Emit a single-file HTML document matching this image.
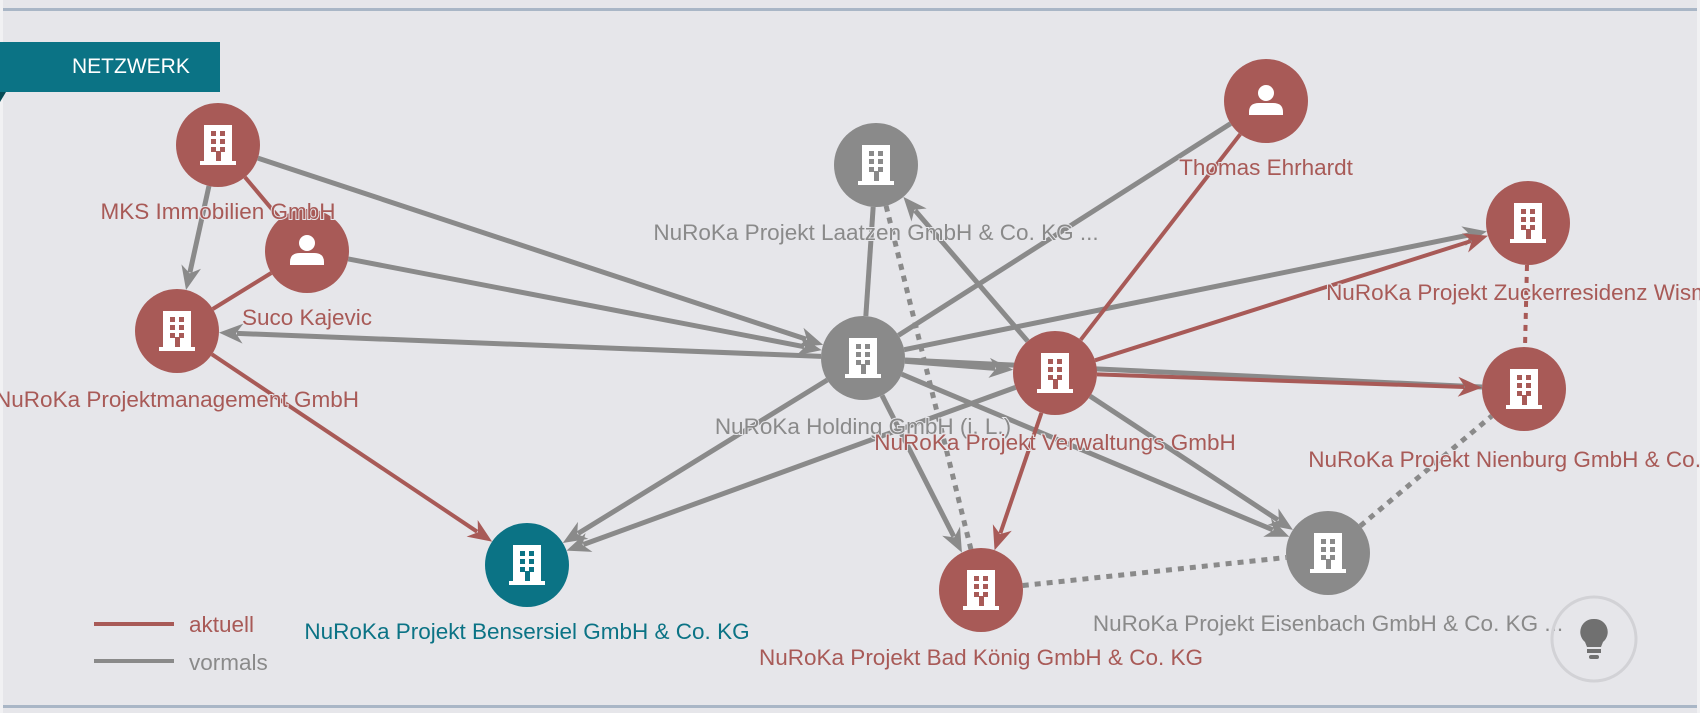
<!DOCTYPE html>
<html><head><meta charset="utf-8"><style>
html,body{margin:0;padding:0;}
body{width:1700px;height:713px;overflow:hidden;background:#e6e6ea;position:relative;font-family:"Liberation Sans",sans-serif;}
.bar{position:absolute;left:3px;right:3px;height:3px;background:#a9b6c6;}
.tab{position:absolute;left:0;top:42px;width:220px;height:50px;background:#0b7385;color:#fff;font-size:21px;line-height:50px;}
.tab span{position:absolute;left:72px;}
svg{position:absolute;left:0;top:0;}
</style></head><body>
<div style="position:absolute;left:0;top:0;width:3px;height:713px;background:#f1f1f3"></div>
<div style="position:absolute;right:0;top:0;width:3px;height:713px;background:#f1f1f3"></div>
<div class="bar" style="top:8px"></div>
<div class="bar" style="top:705px"></div>
<svg id="s" width="1700" height="713" viewBox="0 0 1700 713"></svg>
<div class="tab"><span>NETZWERK</span></div>
<div style="position:absolute;left:0;top:92px;width:0;height:0;border-top:10px solid #064a55;border-right:6px solid transparent"></div>
<script>
var R='#a85a57',G='#8a8a8a',T='#0b7385';
var N={
mks:[218,145,R,'b','MKS Immobilien GmbH',219,R],
suco:[307,251,R,'p','Suco Kajevic',325,R],
pm:[177,331,R,'b','NuRoKa Projektmanagement GmbH',407,R],
ben:[527,565,T,'b','NuRoKa Projekt Bensersiel GmbH & Co. KG',639,T],
laa:[876,165,G,'b','NuRoKa Projekt Laatzen GmbH & Co. KG ...',240,G],
hol:[863,358,G,'b','NuRoKa Holding GmbH (i. L.)',434,G],
tho:[1266,101,R,'p','Thomas Ehrhardt',175,R],
ver:[1055,373,R,'b','NuRoKa Projekt Verwaltungs GmbH',450,R],
zuc:[1528,223,R,'b','NuRoKa Projekt Zuckerresidenz Wismar',300,R],
nie:[1524,389,R,'b','NuRoKa Projekt Nienburg GmbH & Co. KG',467,R],
eis:[1328,553,G,'b','NuRoKa Projekt Eisenbach GmbH & Co. KG ...',631,G],
bad:[981,590,R,'b','NuRoKa Projekt Bad König GmbH & Co. KG',665,R]
};
var E=[
['mks','hol',G,1,0],['suco','hol',G,1,0],['mks','pm',G,1,0],['hol','pm',G,1,0],
['hol','ben',G,1,0],['ver','ben',G,1,0],['hol','laa',G,0,0],['ver','laa',G,1,0],
['laa','bad',G,0,1],['tho','hol',G,0,0],['hol','zuc',G,1,0],['hol','ver',G,1,0],
['hol','nie',G,0,0],['hol','eis',G,1,0],['ver','eis',G,1,0],['hol','bad',G,1,0],
['bad','eis',G,0,1],['eis','nie',G,0,1],['zuc','nie',R,0,1],
['mks','suco',R,0,0],['suco','pm',R,0,0],['pm','ben',R,1,0],['tho','ver',R,0,0],
['ver','zuc',R,1,0],['ver','nie',R,1,0],['ver','bad',R,1,0]
];
var h='';
E.forEach(function(e){
 var a=N[e[0]],b=N[e[1]],dx=b[0]-a[0],dy=b[1]-a[1],L=Math.sqrt(dx*dx+dy*dy),ux=dx/L,uy=dy/L,r=42;
 var x1=a[0]+ux*r,y1=a[1]+uy*r,x2=b[0]-ux*r,y2=b[1]-uy*r,w=e[2]==R?4:5;
 var ex=x2,ey=y2;
 if(e[3]){ex=x2-ux*18;ey=y2-uy*18;}
 h+='<line x1="'+x1+'" y1="'+y1+'" x2="'+ex+'" y2="'+ey+'" stroke="'+e[2]+'" stroke-width="'+w+'"'+(e[4]?' stroke-dasharray="6,6"':'')+'/>';
 if(e[3]){var px=-uy,py=ux,bx=x2-ux*24,by=y2-uy*24;
  h+='<polygon points="'+x2+','+y2+' '+(bx+px*10)+','+(by+py*10)+' '+(x2-ux*17)+','+(y2-uy*17)+' '+(bx-px*10)+','+(by-py*10)+'" fill="'+e[2]+'"/>';}
});
for(var k in N){var n=N[k],x=n[0],y=n[1];
 h+='<circle cx="'+x+'" cy="'+y+'" r="42" fill="'+n[2]+'"/>';
 if(n[3]=='b'){
  h+='<rect x="'+(x-14)+'" y="'+(y-20)+'" width="28" height="38" fill="#fff"/><rect x="'+(x-18)+'" y="'+(y+16)+'" width="36" height="4" fill="#fff"/>';
  for(var i=0;i<3;i++)for(var j=0;j<2;j++)h+='<rect x="'+(x-7+j*9)+'" y="'+(y-14+i*8)+'" width="5" height="5" fill="'+n[2]+'"/>';
  h+='<rect x="'+(x-2)+'" y="'+(y+6)+'" width="5" height="10" fill="'+n[2]+'"/>';
 }else{
  h+='<circle cx="'+x+'" cy="'+(y-8)+'" r="8" fill="#fff"/><path d="M'+(x-17)+' '+(y+14)+' v-3 q0 -9 10 -9 h14 q10 0 10 9 v3 z" fill="#fff"/>';
 }
}
for(var k in N){var n=N[k];
 h+='<text x="'+n[0]+'" y="'+n[5]+'" text-anchor="middle" font-size="22.5" fill="'+n[6]+'" style="font-family:Liberation Sans,sans-serif" stroke="#e6e6ea" stroke-width="2" paint-order="stroke">'+n[4].replace('&','&amp;')+'</text>';
}
h+='<line x1="94" y1="624" x2="174" y2="624" stroke="'+R+'" stroke-width="4"/><line x1="94" y1="661" x2="174" y2="661" stroke="'+G+'" stroke-width="4"/>';
h+='<text x="189" y="632" font-size="22.5" fill="'+R+'">aktuell</text><text x="189" y="670" font-size="22.5" fill="'+G+'">vormals</text>';
h+='<circle cx="1594" cy="639" r="42" fill="none" stroke="#d2d2d6" stroke-width="3"/>';
h+='<path d="M1594 619 a13 13 0 0 1 9 23 l-2 5 h-14 l-2 -5 a13 13 0 0 1 9 -23z" fill="#707070"/><rect x="1587" y="649" width="14" height="4" fill="#707070"/><rect x="1589" y="655" width="10" height="4" rx="2" fill="#707070"/>';
document.getElementById('s').innerHTML=h;
</script>
</body></html>
